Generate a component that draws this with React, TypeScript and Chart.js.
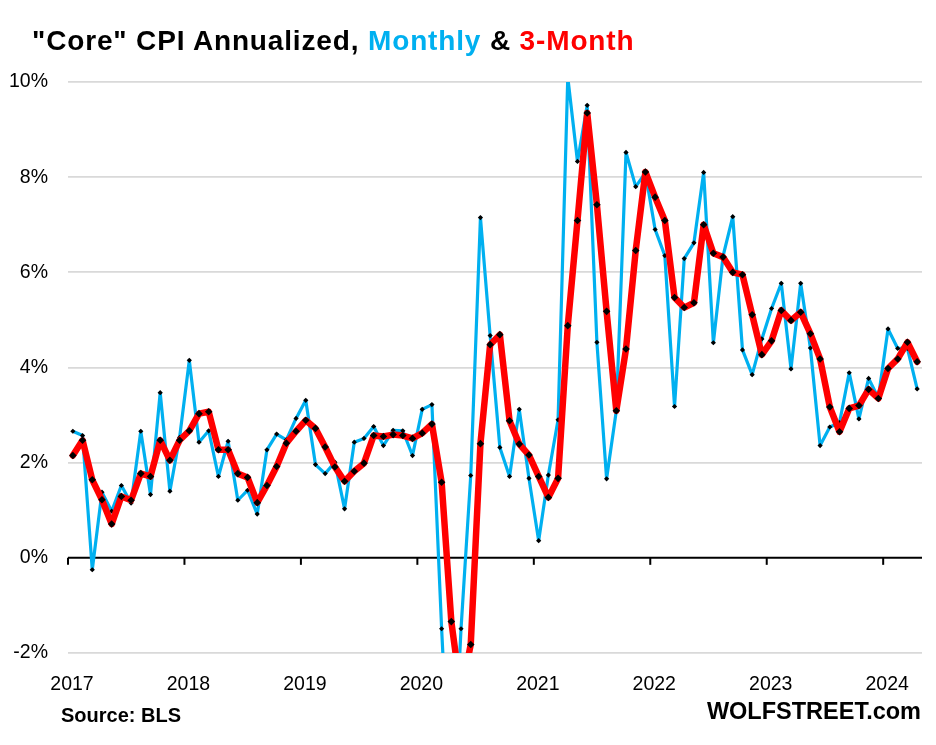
import React, { useEffect, useRef } from "react";
import { Chart, registerables } from "chart.js";

Chart.register(...registerables);

// Year labels on the x axis (each tick marks the start of a year)
const yearLabels = ["2017", "2018", "2019", "2020", "2021", "2022", "2023", "2024"];

// Y axis tick values (%)
const yTicks = [-2, 0, 2, 4, 6, 8, 10];

// Core CPI, month-over-month, annualized (%), Jan 2017 .. Apr 2024
const monthly = [
  2.66, 2.57, -0.25, 1.38, 0.98, 1.52, 1.15, 2.66, 1.33, 3.47, 1.40, 2.53,
  4.15, 2.43, 2.67, 1.71, 2.45, 1.21, 1.42, 0.92, 2.27, 2.60, 2.48, 2.93,
  3.31, 1.96, 1.77, 2.01, 1.03, 2.43, 2.51, 2.76, 2.36, 2.68, 2.67, 2.15,
  3.12, 3.22, -1.49, -5.6, -1.49, 1.73, 7.15, 4.67, 2.32, 1.71, 3.12, 1.67,
  0.36, 1.74, 2.90, 10.1, 8.33, 9.51, 4.53, 1.66, 3.09, 8.52, 7.80, 8.09,
  6.90, 6.35, 3.18, 6.29, 6.62, 8.10, 4.52, 6.34, 7.17, 4.37, 3.85, 4.60,
  5.24, 5.77, 3.97, 5.77, 4.41, 2.36, 2.75, 2.84, 3.89, 2.92, 3.77, 3.36,
  4.81, 4.40, 4.40, 3.55,
];

// Core CPI, 3-month average, annualized (%)
const threeMonth = [
  2.15, 2.47, 1.64, 1.22, 0.71, 1.29, 1.21, 1.77, 1.71, 2.47, 2.05, 2.47,
  2.67, 3.03, 3.07, 2.27, 2.27, 1.77, 1.69, 1.16, 1.52, 1.92, 2.41, 2.66,
  2.89, 2.72, 2.33, 1.91, 1.61, 1.82, 1.99, 2.57, 2.55, 2.59, 2.57, 2.51,
  2.62, 2.81, 1.59, -1.34, -2.86, -1.82, 2.40, 4.48, 4.69, 2.88, 2.39, 2.16,
  1.71, 1.27, 1.67, 4.88, 7.09, 9.35, 7.42, 5.18, 3.09, 4.39, 6.46, 8.11,
  7.58, 7.09, 5.47, 5.26, 5.36, 7.00, 6.40, 6.32, 6.00, 5.95, 5.11, 4.27,
  4.56, 5.20, 4.99, 5.16, 4.71, 4.18, 3.17, 2.65, 3.14, 3.20, 3.54, 3.35,
  3.98, 4.18, 4.53, 4.12,
];

const FONT = "'Liberation Sans', Arial, sans-serif";

const zeroAxisPlugin = {
  id: "zeroAxis",
  beforeDatasetsDraw(chart: any) {
    const { ctx, chartArea, scales } = chart;
    const y0 = scales.y.getPixelForValue(0);
    ctx.save();
    ctx.strokeStyle = "#000";
    ctx.lineWidth = 2;
    ctx.beginPath();
    ctx.moveTo(chartArea.left, y0);
    ctx.lineTo(chartArea.right, y0);
    ctx.stroke();
    scales.x.ticks.forEach((t: any) => {
      const px = scales.x.getPixelForValue(t.value);
      ctx.beginPath();
      ctx.moveTo(px, y0);
      ctx.lineTo(px, y0 + 7);
      ctx.stroke();
    });
    ctx.restore();
  },
};

export default function App() {
  const ref = useRef<HTMLCanvasElement | null>(null);

  useEffect(() => {
    if (!ref.current) return;
    const xs = monthly.map((_, i) => i);
    const chart = new Chart(ref.current, {
      type: "line",
      data: {
        datasets: [
          {
            label: "3-Month",
            data: threeMonth.map((v, i) => ({ x: xs[i], y: v })),
            borderColor: "#FF0000",
            borderWidth: 6.5,
            borderJoinStyle: "round",
            borderCapStyle: "round",
            pointStyle: "rectRot",
            pointRadius: 3.8,
            pointBackgroundColor: "#000",
            pointBorderColor: "#000",
            pointBorderWidth: 0,
            tension: 0,
            clip: { left: 10, right: 10, top: 0, bottom: 0 },
            order: 0,
          } as any,
          {
            label: "Monthly",
            data: monthly.map((v, i) => ({ x: xs[i], y: v })),
            borderColor: "#00B0F0",
            borderWidth: 3.2,
            borderJoinStyle: "round",
            pointStyle: "rectRot",
            pointRadius: 2.6,
            pointBackgroundColor: "#000",
            pointBorderColor: "#000",
            pointBorderWidth: 0,
            tension: 0,
            clip: { left: 10, right: 10, top: 0, bottom: 0 },
            order: 1,
          } as any,
        ],
      },
      options: {
        animation: false,
        responsive: true,
        maintainAspectRatio: false,
        layout: { padding: { top: 82, right: 14, left: 0, bottom: 42 } },
        plugins: {
          legend: { display: false },
          tooltip: { enabled: false },
          title: { display: false },
        },
        scales: {
          x: {
            type: "linear",
            min: -0.5,
            max: 87.5,
            afterBuildTicks: (scale: any) => {
              scale.ticks = yearLabels.map((_, k) => ({ value: -0.5 + 12 * k }));
            },
            afterFit: (scale: any) => {
              scale.height = 50;
            },
            grid: { display: false, drawTicks: false },
            border: { display: false },
            ticks: {
              autoSkip: false,
              maxRotation: 0,
              padding: 20,
              labelOffset: 4,
              color: "#000",
              font: { family: FONT, size: 19.5 },
              callback: (_v: any, index: number) => yearLabels[index],
            },
          },
          y: {
            min: -2,
            max: 10,
            afterBuildTicks: (scale: any) => {
              scale.ticks = yTicks.map((v) => ({ value: v }));
            },
            afterFit: (scale: any) => {
              scale.width = 68;
            },
            grid: {
              color: (c: any) => (c.tick && c.tick.value === 0 ? "rgba(0,0,0,0)" : "#D9D9D9"),
              lineWidth: 1.7,
              drawTicks: false,
            },
            border: { display: false },
            ticks: {
              padding: 20,
              color: "#000",
              font: { family: FONT, size: 19.5 },
              callback: (v: any) => `${v}%`,
            },
          },
        },
      },
      plugins: [zeroAxisPlugin],
    });
    return () => chart.destroy();
  }, []);

  return (
    <div style={{ position: "absolute", left: 0, top: 0, width: 936, height: 745, background: "#fff", overflow: "hidden" }}>
      <div style={{ position: "absolute", left: 0, top: 0, width: 936, height: 745 }}>
        <canvas ref={ref} />
      </div>
      <div
        style={{
          position: "absolute",
          left: 32,
          top: 27,
          fontFamily: FONT,
          fontWeight: "bold",
          fontSize: 28,
          letterSpacing: 0.85,
          lineHeight: 1,
          whiteSpace: "nowrap",
          color: "#000",
        }}
      >
        "Core" CPI Annualized, <span style={{ color: "#00B0F0" }}>Monthly</span> &amp;{" "}
        <span style={{ color: "#FF0000" }}>3-Month</span>
      </div>
      <div
        style={{
          position: "absolute",
          left: 61,
          top: 705,
          fontFamily: FONT,
          fontWeight: "bold",
          fontSize: 20,
          lineHeight: 1,
          whiteSpace: "nowrap",
          color: "#000",
        }}
      >
        Source: BLS
      </div>
      <div
        style={{
          position: "absolute",
          right: 15,
          top: 700,
          fontFamily: FONT,
          fontWeight: "bold",
          fontSize: 23.5,
          lineHeight: 1,
          whiteSpace: "nowrap",
          color: "#000",
        }}
      >
        WOLFSTREET.com
      </div>
    </div>
  );
}
